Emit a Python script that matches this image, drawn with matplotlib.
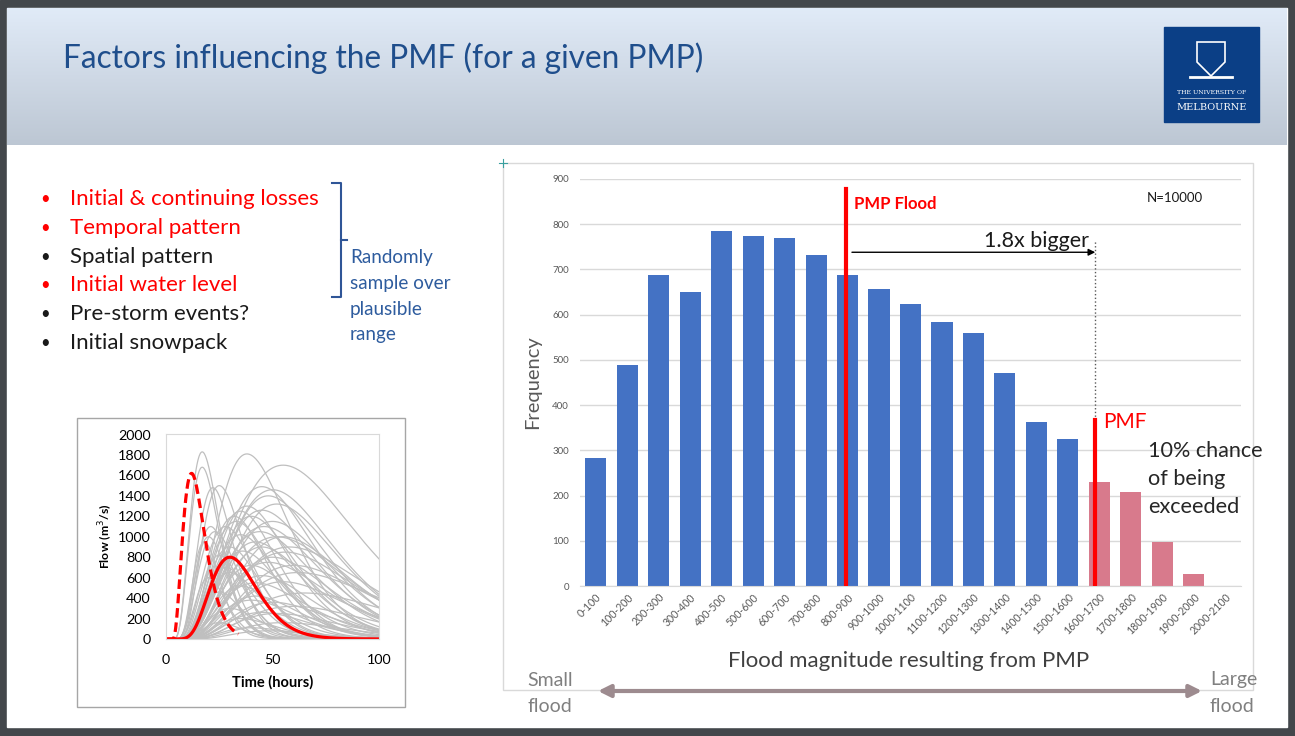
import numpy as np
import matplotlib.pyplot as plt
from matplotlib.patches import Rectangle, Polygon

plt.rcParams['font.family'] = ['Lato', 'DejaVu Sans']

W, H = 1295, 736

# ---- histogram data ----
bins = ['0-100', '100-200', '200-300', '300-400', '400-500', '500-600', '600-700',
        '700-800', '800-900', '900-1000', '1000-1100', '1100-1200', '1200-1300',
        '1300-1400', '1400-1500', '1500-1600', '1600-1700', '1700-1800',
        '1800-1900', '1900-2000', '2000-2100']
freq = [283, 488, 688, 651, 786, 773, 769, 732, 687, 657, 624, 583, 560,
        471, 363, 325, 230, 207, 97, 27, 0]
exceed_from = 16          # bins from here on are above the PMF
pmp_flood_pos = 7.94      # category position of PMP flood line
pmp_flood_top = 878
pmf_pos = 15.87
pmf_top = 367

# ---- hydrograph parameters (start, peak time, peak flow, shape) ----
gray_t0 = [3, 3, 6, 5, 5, 4, 6, 6, 6, 5, 6, 6, 6, 4, 4, 4, 4, 5, 6, 6, 7, 6, 5, 5, 5,
           7, 8, 6, 5, 4, 7, 8, 6, 5, 7, 8, 6, 9, 8, 7, 6, 9, 8, 10, 5, 6, 7, 6, 7, 8,
           7, 6, 9, 5, 4, 5, 7, 8, 6, 10]
gray_tp = [17, 17, 38, 55, 25, 22, 45, 50, 48, 35, 40, 45, 52, 28, 21, 23, 20, 35, 42, 50,
           55, 45, 30, 25, 36, 50, 60, 40, 30, 20, 45, 55, 35, 25, 42, 50, 30, 60, 45, 35,
           25, 55, 40, 48, 33, 44, 58, 38, 52, 62, 48, 42, 65, 28, 18, 32, 46, 56, 40, 52]
gray_qp = [1830, 1680, 1810, 1700, 1500, 1480, 1490, 1460, 1400, 1250, 1200, 1260, 1320,
           1100, 1100, 1050, 1000, 1020, 950, 1150, 1000, 900, 900, 820, 860, 800, 720,
           720, 650, 600, 620, 560, 520, 460, 420, 360, 300, 320, 260, 200, 160, 160, 110,
           80, 1150, 1050, 900, 1300, 1000, 650, 750, 550, 450, 700, 950, 1200, 1100, 850,
           380, 250]
gray_k = [4, 4, 3.5, 3, 4, 4.5, 3.5, 3.2, 3.5, 4, 3.5, 3.3, 3.5, 4, 4.5, 4, 4.5, 3.8, 3.5,
          3.5, 3.5, 3.8, 4, 4.2, 3.8, 3.5, 3.2, 3.8, 4, 5, 3.6, 3.4, 4, 4.5, 3.8, 3.6, 4.2,
          3.2, 3.8, 4, 4.5, 3.5, 4, 4, 3.6, 3.2, 3.0, 3.6, 2.8, 2.8, 3, 3.2, 2.8, 4.2, 5, 4,
          3, 3, 3.5, 3.2]
pmf_params = (4, 30, 800, 5.5)        # solid red
pmp_params = (3, 12, 1620, 2.9)       # dashed red
pmp_end = 34


def hydrograph(t, t0, tp, qp, k):
    x = np.clip((t - t0) / (tp - t0), 0, None)
    return qp * (x * np.exp(1 - x)) ** k


fig = plt.figure(figsize=(W / 100, H / 100), dpi=100)

# ---- background / slide ----
bg = fig.add_axes([0, 0, 1, 1], zorder=-5)
bg.set_xlim(0, W)
bg.set_ylim(H, 0)
bg.axis('off')
bg.add_patch(Rectangle((0, 0), W, H, color='#43474b'))
bg.add_patch(Rectangle((7, 8), 1280, 719, color='white'))
grad = np.linspace(0, 1, 100)[:, None]
top_c = np.array([0.88, 0.92, 0.97])
bot_c = np.array([0.74, 0.78, 0.83])
img = top_c + (bot_c - top_c) * grad[:, :, None]
bg.imshow(img, extent=[7, 1287, 145, 8], aspect='auto', zorder=1)

bg.text(63, 58, 'Factors influencing the PMF (for a given PMP)', fontsize=22.8,
        color='#1F4E8C', va='center', zorder=3)

# logo
bg.add_patch(Rectangle((1164, 27), 95, 95, color='#0B3F86', zorder=3))
shield = Polygon([(1197, 42), (1225, 42), (1225, 62), (1211, 76), (1197, 62)], closed=True,
                 fill=False, ec='white', lw=1.2, zorder=4)
bg.add_patch(shield)
bg.plot([1190, 1232], [77, 77], color='white', lw=2, zorder=4)
bg.text(1211.5, 92, 'THE UNIVERSITY OF', fontsize=4.5, color='white', ha='center',
        va='center', family='DejaVu Serif', zorder=4)
bg.plot([1180, 1243], [98, 98], color='white', lw=0.4, zorder=4)
bg.text(1211.5, 107, 'MELBOURNE', fontsize=7, color='white', ha='center',
        va='center', family='DejaVu Serif', zorder=4)

# bullets
bullets = [('Initial & continuing losses', '#FF0000'), ('Temporal pattern', '#FF0000'),
           ('Spatial pattern', '#1a1a1a'), ('Initial water level', '#FF0000'),
           ('Pre-storm events?', '#1a1a1a'), ('Initial snowpack', '#1a1a1a')]
for i, (txt, col) in enumerate(bullets):
    y = 199 + i * 28.8
    bg.text(40, y, '•', fontsize=12, color=col, va='center', zorder=3)
    bg.text(70, y, txt, fontsize=16, color=col, va='center', zorder=3)

bc = '#2F5597'
bg.plot([332, 341, 341, 332], [183, 183, 297, 297], color=bc, lw=1.5, zorder=3)
bg.plot([341, 347], [240, 240], color=bc, lw=1.5, zorder=3)
for i, txt in enumerate(['Randomly', 'sample over', 'plausible', 'range']):
    bg.text(350, 258 + i * 25.5, txt, fontsize=13.6, color='#2E5C9E', va='center', zorder=3)

# frames
bg.add_patch(Rectangle((77, 418), 328, 289, fill=False, ec='#A6A6A6', lw=1, zorder=3))
bg.add_patch(Rectangle((503, 163), 750, 527, fill=False, ec='#D9D9D9', lw=1, zorder=3))
bg.plot([499, 507], [163, 163], color='#3aa0a0', lw=0.8, zorder=3)
bg.plot([503, 503], [159, 167], color='#3aa0a0', lw=0.8, zorder=3)

bg.text(909, 661, 'Flood magnitude resulting from PMP', fontsize=16, color='#404040',
        ha='center', va='center', zorder=3)
bg.text(527, 680, 'Small', fontsize=14, color='#808080', va='center', zorder=3)
bg.text(527, 706, 'flood', fontsize=14, color='#808080', va='center', zorder=3)
bg.text(1210, 680, 'Large', fontsize=14, color='#808080', va='center', zorder=3)
bg.text(1210, 706, 'flood', fontsize=14, color='#808080', va='center', zorder=3)
bg.annotate('', xy=(1202, 691), xytext=(598, 691), zorder=3,
            arrowprops=dict(arrowstyle='<|-|>', color='#9d8b8f', lw=3, mutation_scale=18,
                            shrinkA=0, shrinkB=0))

# ---- histogram ----
ax = fig.add_axes([580 / W, 1 - 586 / H, 661 / W, 407 / H])
ax.set_facecolor('none')
pos = np.arange(len(bins))
colors = ['#4472C4' if i < exceed_from else '#D87A8C' for i in pos]
ax.bar(pos, freq, width=0.67, color=colors, zorder=2)
ax.set_xlim(-0.5, len(bins) - 0.5)
ax.set_ylim(0, 900)
ax.set_yticks(range(0, 901, 100))
ax.grid(axis='y', color='#D9D9D9', lw=1, zorder=0)
for s in ['top', 'right', 'left']:
    ax.spines[s].set_visible(False)
ax.spines['bottom'].set_color('#D9D9D9')
ax.set_xticks(pos)
ax.set_xticklabels(bins, rotation=45, ha='right', rotation_mode='anchor')
ax.tick_params(length=0, labelsize=7, labelcolor='#595959')
ax.tick_params(axis='x', labelsize=7.6, pad=4)
ax.tick_params(axis='y', pad=8)
ax.set_ylabel('Frequency', fontsize=14.5, color='#595959', labelpad=8)

ax.plot([pmp_flood_pos] * 2, [0, pmp_flood_top], color='#FF0000', lw=3, zorder=4)
ax.text(pmp_flood_pos + 0.25, 845, 'PMP Flood', fontsize=12, color='#FF0000',
        fontweight='bold', va='center')
ax.plot([pmf_pos] * 2, [pmf_top, 762], ':', color='#595959', lw=1, zorder=3)
ax.annotate('', xy=(pmf_pos, 738), xytext=(pmp_flood_pos + 0.2, 738),
            arrowprops=dict(arrowstyle='-|>', color='black', lw=1, shrinkA=0, shrinkB=0))
ax.text(pmf_pos - 0.2, 764, '1.8x bigger', fontsize=15.5, color='#1a1a1a', ha='right',
        va='center')
ax.plot([pmf_pos] * 2, [0, pmf_top], color='#FF0000', lw=3, zorder=4)
ax.text(pmf_pos + 0.25, 362, 'PMF', fontsize=15, color='#FF0000', va='center')
ax.text(17.55, 321, '10% chance\nof being\nexceeded', fontsize=15.6, color='#262626',
        va='top', linespacing=1.52, clip_on=False)
ax.text(17.5, 858, 'N=10000', fontsize=9.5, color='#1a1a1a', va='center')

# ---- small hydrograph chart ----
ax2 = fig.add_axes([166 / W, 1 - 639 / H, 213 / W, 204.5 / H])
t = np.linspace(0, 100, 401)
for t0, tp, qp, k in zip(gray_t0, gray_tp, gray_qp, gray_k):
    ax2.plot(t, hydrograph(t, t0, tp, qp, k), color='#BFBFBF', lw=0.9)
ax2.plot(t, hydrograph(t, *pmf_params), color='#FF0000', lw=2.3)
td = t[t <= pmp_end]
ax2.plot(td, hydrograph(td, *pmp_params), color='#FF0000', lw=2.3, ls=(0, (3, 1.5)))
ax2.set_xlim(0, 100)
ax2.set_ylim(0, 2000)
ax2.set_yticks(range(0, 2001, 200))
ax2.set_xticks([0, 50, 100])
for s in ax2.spines.values():
    s.set_color('#D9D9D9')
ax2.tick_params(length=0, labelsize=10.3)
ax2.tick_params(axis='y', pad=11)
ax2.tick_params(axis='x', pad=11)
ax2.set_ylabel('Flow (m$^3$/s)', fontsize=8.8, fontweight='bold', labelpad=2)
ax2.set_xlabel('Time (hours)', fontsize=10.5, fontweight='bold', labelpad=6)

fig.savefig('out.png', dpi=100)
